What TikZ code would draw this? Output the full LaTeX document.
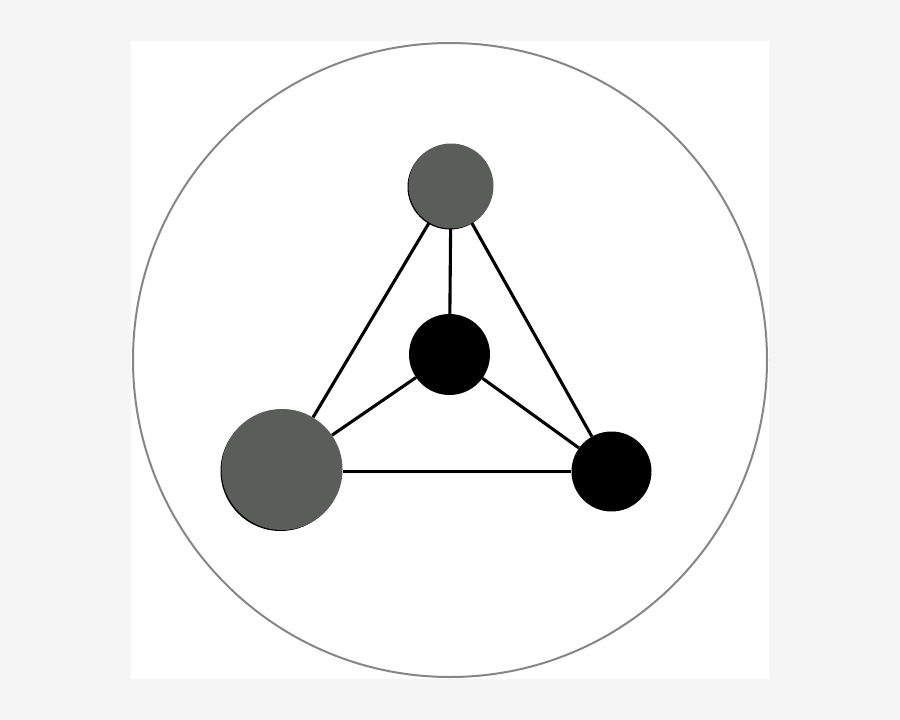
\documentclass[tikz,border=0pt]{standalone}
\usetikzlibrary{calc}
\begin{document}
\begin{tikzpicture}[x=1pt,y=-1pt,
  bond/.style={line width=3.1pt,black},
  graynode/.style={circle,fill=nodegray,inner sep=0pt,draw=none},
  blacknode/.style={circle,fill=black,inner sep=0pt,draw=none}]
\definecolor{nodegray}{HTML}{5B5D5B}
\definecolor{bggray}{HTML}{F5F5F5}
\definecolor{ringgray}{HTML}{868686}
\fill[bggray] (0,0) rectangle (900,720);
\useasboundingbox (0,0) rectangle (900,720);
\fill[white] (131,41) rectangle (769,679);
\draw[ringgray,line width=2pt] (450,360) circle (317);
\coordinate (tc) at (451,186);
\coordinate (cc) at (449.5,354.5);
\coordinate (lc) at (282,469.5);
\coordinate (rc) at (611.5,471.5);
\fill[black] ($(tc)+(-1,1)$) circle (42.5);
\fill[black] ($(lc)+(-1.5,1.5)$) circle (60);
\node[graynode,minimum size=85pt] (top) at (tc) {};
\node[graynode,minimum size=121pt] (left) at (lc) {};
\node[blacknode,minimum size=81pt] (center) at (cc) {};
\node[blacknode,minimum size=80pt] (right) at (rc) {};
\draw[bond] (top) -- (center);
\draw[bond] (top) -- (left);
\draw[bond] (top) -- (right);
\draw[bond] (center) -- (left);
\draw[bond] (center) -- (right);
\draw[bond] (right.west) -- (left.east |- right.west);
\end{tikzpicture}
\end{document}
